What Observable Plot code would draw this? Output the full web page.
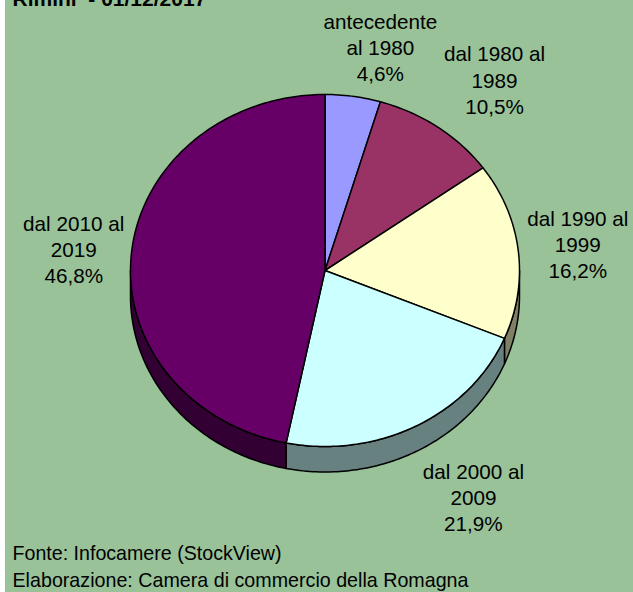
<!DOCTYPE html>
<html><head><meta charset="utf-8">
<script src="https://cdn.jsdelivr.net/npm/d3@7"></script>
<script src="https://cdn.jsdelivr.net/npm/@observablehq/plot@0.6"></script>
<style>html,body{margin:0;padding:0;background:#fff;overflow:hidden}svg{display:block;margin-left:5px}</style>
</head><body><div id="chart"></div>
<script>
const categories = ["antecedente\nal 1980", "dal 1980 al\n1989", "dal 1990 al\n1999", "dal 2000 al\n2009", "dal 2010 al\n2019"];
const shares = [4.6, 10.5, 16.2, 21.9, 46.8];
const topColors = ["#9999FF", "#993366", "#FFFFCC", "#CCFFFF", "#660066"];
const wallColors = ["#4D4D80", "#4D1A33", "#808066", "#678080", "#330033"];
const labelX = [0.285, 0.872, 1.300, 0.763, -1.292];
const labelY = [1.270, 1.087, 0.151, -1.283, 0.126];
const title = "Rimini  - 01/12/2017";
const notes = ["Fonte: Infocamere (StockView)", "Elaborazione: Camera di commercio della Romagna"];
const noteWidths = [269, 456];

const FONT = "'Liberation Sans', Arial, sans-serif";
const depth = 0.145, step = Math.PI / 180;
const total = d3.sum(shares);
const ends = d3.cumsum(shares).map(v => v / total * 2 * Math.PI);
const starts = ends.map((_, i) => i ? ends[i - 1] : 0);
const pt = (a, off = 0) => ({px: Math.sin(a), py: Math.cos(a) - off});
const arc = (a, b, off = 0) => {
  const n = Math.max(1, Math.ceil((b - a) / step));
  return d3.range(n + 1).map(k => pt(a + (b - a) * k / n, off));
};
const slices = shares.flatMap((_, i) =>
  [{px: 0, py: 0}, ...arc(starts[i], ends[i]), {px: 0, py: 0}].map(p => ({...p, i})));
const walls = shares.flatMap((_, i) => {
  const a = Math.max(starts[i], Math.PI / 2), b = Math.min(ends[i], 1.5 * Math.PI);
  if (a >= b) return [];
  const top = arc(a, b), low = arc(a, b, depth).reverse();
  return [...top, ...low, top[0]].map(p => ({...p, i}));
});
const labels = categories.map((c, i) => ({
  text: c + "\n" + shares[i].toFixed(1).replace(".", ",") + "%", x: labelX[i], y: labelY[i]
}));

const chart = Plot.plot({
  width: 628, height: 592, margin: 0,
  style: {background: "#99C299", fontFamily: FONT},
  x: {axis: null, domain: [-319.5 / 194.5, 308.5 / 194.5], range: [0, 628]},
  y: {axis: null, domain: [-322 / 176, 270 / 176], range: [592, 0]},
  marks: [
    Plot.line(walls, {x: "px", y: "py", z: "i", curve: "linear", fill: d => wallColors[d.i], stroke: "#000", strokeWidth: 1.5}),
    Plot.line(slices, {x: "px", y: "py", z: "i", curve: "linear", fill: d => topColors[d.i], stroke: "#000", strokeWidth: 1.5}),
    Plot.text(labels, {x: "x", y: "y", text: "text", fontSize: 20.7, lineHeight: 1.26, fill: "#000", textAnchor: "middle"}),
    Plot.text([title], {frameAnchor: "top-left", dx: 7, dy: -9, fontSize: 21, fontWeight: "bold", fill: "#000", textAnchor: "start", lineAnchor: "top"}),
    Plot.text([notes[0]], {frameAnchor: "bottom-left", dx: 7, dy: -33, fontSize: 21, fill: "#000", textAnchor: "start", lineAnchor: "bottom", className: "note"}),
    Plot.text([notes[1]], {frameAnchor: "bottom-left", dx: 7, dy: -6, fontSize: 21, fill: "#000", textAnchor: "start", lineAnchor: "bottom", className: "note"})
  ]
});
chart.querySelectorAll(".note text").forEach((t, i) => {
  t.setAttribute("textLength", noteWidths[i]);
  t.setAttribute("lengthAdjust", "spacingAndGlyphs");
});
document.getElementById("chart").append(chart);
</script></body></html>
